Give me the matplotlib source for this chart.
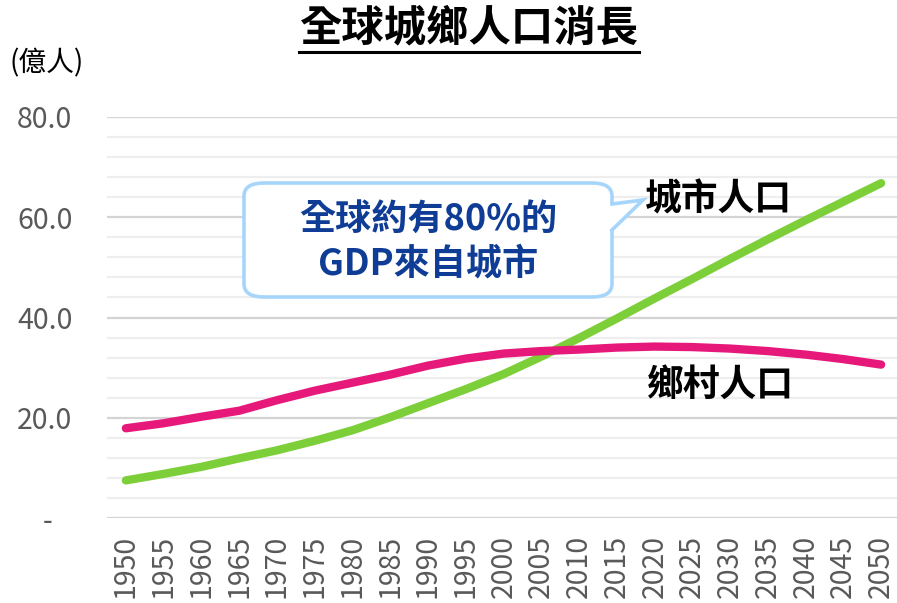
import numpy as np
import matplotlib
matplotlib.use('Agg')
import matplotlib.pyplot as plt
from matplotlib.patches import FancyBboxPatch, Polygon
from matplotlib.lines import Line2D

plt.rcParams['font.family'] = ['Noto Sans CJK TC', 'DejaVu Sans']

years = [str(y) for y in range(1950, 2051, 5)]
urban = [7.5, 8.8, 10.2, 11.9, 13.5, 15.4, 17.5, 20.1, 22.9, 25.7, 28.7,
         32.2, 35.9, 39.8, 43.8, 47.7, 51.7, 55.6, 59.4, 63.1, 66.8]
rural = [17.9, 18.9, 20.2, 21.4, 23.5, 25.4, 27.0, 28.6, 30.4, 31.8, 32.8,
         33.3, 33.6, 34.0, 34.2, 34.1, 33.8, 33.3, 32.6, 31.7, 30.6]
yticks = [0, 20, 40, 60, 80]
ytick_labels = ['-   ', '20.0', '40.0', '60.0', '80.0']

title = '全球城鄉人口消長'
unit = '(億人)'
urban_label = '城市人口'
rural_label = '鄉村人口'
callout = '全球約有80%的\nGDP來自城市'

W, H = 897, 603
fig = plt.figure(figsize=(W / 100, H / 100), dpi=100)
ax = fig.add_axes([107 / W, 1 - 518 / H, 793 / W, 401 / H])

def fx(px):
    return px / W

def fy(py):
    return 1 - py / H

x = np.arange(len(years))
green = '#7dcf3a'
pink = '#e6197b'
ax.plot(x, urban, color=green, lw=6, solid_capstyle='round', zorder=3)
ax.plot(x, rural, color=pink, lw=6, solid_capstyle='round', zorder=3)

ax.set_xlim(-0.5, len(years) - 0.5)
ax.set_ylim(0, 80)
for s in ax.spines.values():
    s.set_visible(False)

# gridlines: major every 20, minor every 4
for v in np.arange(0, 81, 4):
    if v % 20 == 0:
        ax.axhline(v, color='#d4d4d4', lw=1.6, zorder=1)
    else:
        ax.axhline(v, color='#eeeeee', lw=1.6, zorder=1)

ax.set_yticks(yticks)
ax.set_yticklabels(ytick_labels)
ax.set_xticks(x)
ax.set_xticklabels(years, rotation=90)
ax.tick_params(axis='y', length=0, pad=25, labelsize=20.5, labelcolor='#595959')
ax.tick_params(axis='x', length=0, pad=12, labelsize=20.5, labelcolor='#595959')
for lab in ax.get_xticklabels():
    lab.set_verticalalignment('top')

ax.text(15.7, 63.5, urban_label, fontsize=26.5, fontweight='bold', color='black',
        ha='center', va='center', zorder=5)
ax.text(15.75, 26.5, rural_label, fontsize=26.5, fontweight='bold', color='black',
        ha='center', va='center', zorder=5)

# title with underline
fig.text(fx(469), fy(28), title, fontsize=30.5, fontweight='bold',
         ha='center', va='center')
fig.add_artist(Line2D([fx(299), fx(639)], [fy(52), fy(52)], color='black', lw=2.2))

fig.text(fx(9), fy(63), unit, fontsize=20, ha='left', va='center', color='black')

# callout box with tail
edge = '#a6d5fb'
box = FancyBboxPatch((fx(244), fy(297)), fx(612 - 244), (297 - 183) / H,
                     boxstyle='round,pad=0,rounding_size=0.022',
                     transform=fig.transFigure, facecolor='white',
                     edgecolor=edge, lw=2.6, zorder=6)
fig.add_artist(box)
tail = Polygon([(fx(610), fy(204)), (fx(643), fy(200)), (fx(610), fy(230))],
               closed=True, transform=fig.transFigure, facecolor='white',
               edgecolor='none', zorder=7)
fig.add_artist(tail)
fig.add_artist(Line2D([fx(612), fx(643), fx(612)], [fy(204), fy(200), fy(230)],
                      color=edge, lw=2.6, transform=fig.transFigure, zorder=8,
                      solid_joinstyle='miter'))
fig.text(fx(428), fy(242), callout, fontsize=26, fontweight='bold',
         color='#0f3d96', ha='center', va='center', linespacing=1.25, zorder=9)

fig.savefig('out.png', dpi=100)
